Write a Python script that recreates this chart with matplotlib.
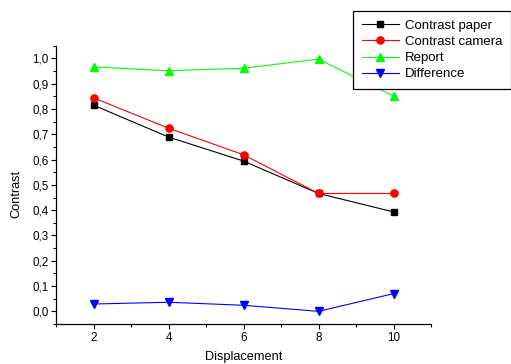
import matplotlib
matplotlib.use("Agg")
import matplotlib.pyplot as plt
from matplotlib.ticker import MultipleLocator, FuncFormatter

# data
displacement = [2, 4, 6, 8, 10]
contrast_paper = [0.815, 0.689, 0.594, 0.466, 0.393]
contrast_camera = [0.844, 0.724, 0.619, 0.466, 0.466]
report = [0.966, 0.951, 0.961, 0.997, 0.851]
difference = [0.029, 0.036, 0.024, 0.0, 0.070]

plt.rcParams['font.family'] = ['Liberation Sans', 'DejaVu Sans']

fig = plt.figure(figsize=(5.11, 3.64), dpi=100)
ax = fig.add_axes([56 / 511, 40 / 364, 375 / 511, 278.3 / 364])

ax.plot(displacement, contrast_paper, color='black', marker='s', ms=4.5, lw=0.8, label='Contrast paper')
ax.plot(displacement, contrast_camera, color='red', marker='o', ms=5.2, lw=0.8, label='Contrast camera')
ax.plot(displacement, report, color='#00ff00', marker='^', ms=5.5, lw=0.8, label='Report')
ax.plot(displacement, difference, color='blue', marker='v', ms=5.5, lw=0.8, label='Difference')

ax.set_xlim(1, 11)
ax.set_ylim(-0.05, 1.05)
ax.xaxis.set_major_locator(MultipleLocator(2))
ax.xaxis.set_minor_locator(MultipleLocator(1))
ax.yaxis.set_major_locator(MultipleLocator(0.1))
ax.yaxis.set_minor_locator(MultipleLocator(0.05))
ax.yaxis.set_major_formatter(FuncFormatter(lambda v, p: f"{v:.1f}".replace('.', ',')))

for s in ['top', 'right']:
    ax.spines[s].set_visible(False)
for s in ['left', 'bottom']:
    ax.spines[s].set_linewidth(0.9)
ax.tick_params(which='major', direction='out', length=3.5, width=0.8, labelsize=8.4, pad=2)
ax.tick_params(which='minor', direction='out', length=2, width=0.8)

ax.set_xlabel('Displacement', fontsize=9.2)
ax.set_ylabel('Contrast', fontsize=9.2)
ax.xaxis.set_label_coords(0.5, -0.097)
ax.yaxis.set_label_coords(-0.089, 0.467)

leg = fig.legend(loc='upper right', bbox_to_anchor=(510.5 / 511, 1 - 11 / 364),
                 fontsize=9.5, frameon=True, fancybox=False, framealpha=1,
                 edgecolor='black', handlelength=2.8, handletextpad=0.43,
                 labelspacing=0.3, borderpad=0.65, borderaxespad=0)
leg.get_frame().set_linewidth(0.9)

fig.savefig('out.png', dpi=100)
